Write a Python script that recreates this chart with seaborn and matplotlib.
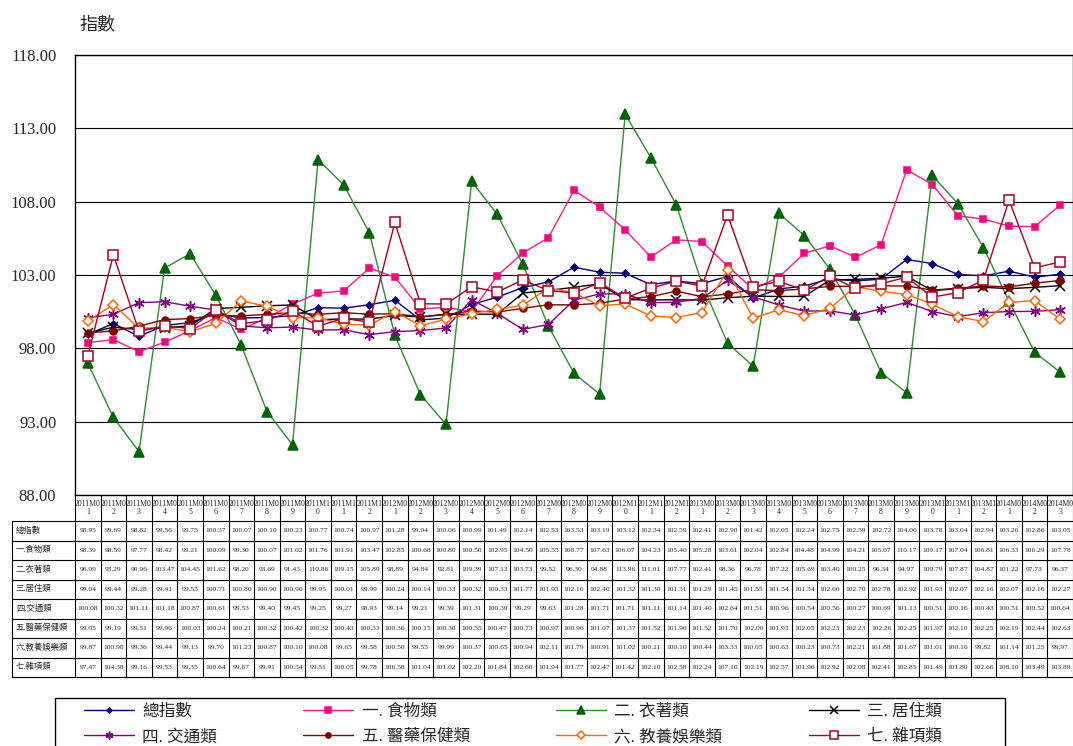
import numpy as np
import pandas as pd
import seaborn as sns
import matplotlib.pyplot as plt
from matplotlib.patches import Rectangle

months = ["2011M01", "2011M02", "2011M03", "2011M04", "2011M05", "2011M06",
          "2011M07", "2011M08", "2011M09", "2011M10", "2011M11", "2011M12",
          "2012M01", "2012M02", "2012M03", "2012M04", "2012M05", "2012M06",
          "2012M07", "2012M08", "2012M09", "2012M10", "2012M11", "2012M12",
          "2013M01", "2013M02", "2013M03", "2013M04", "2013M05", "2013M06",
          "2013M07", "2013M08", "2013M09", "2013M10", "2013M11", "2013M12",
          "2014M01", "2014M02", "2014M03"]

total = [98.95, 99.69, 98.82, 99.56, 99.75, 100.37, 100.07, 100.10, 100.23, 100.77, 100.74, 100.97,
         101.28, 99.94, 100.06, 100.99, 101.49, 102.14, 102.53, 103.53, 103.19, 103.12, 102.34, 102.59,
         102.41, 102.90, 101.42, 102.05, 102.24, 102.75, 102.59, 102.72, 104.06, 103.78, 103.04, 102.94,
         103.26, 102.86, 103.05]
food = [98.39, 98.59, 97.77, 98.42, 99.21, 100.09, 99.30, 100.07, 101.02, 101.76, 101.91, 103.47,
        102.85, 100.68, 100.80, 100.50, 102.95, 104.50, 105.55, 108.77, 107.63, 106.07, 104.23, 105.40,
        105.28, 103.61, 102.04, 102.84, 104.48, 104.99, 104.21, 105.07, 110.17, 109.17, 107.04, 106.81,
        106.33, 106.29, 107.78]
clothing = [96.99, 93.29, 90.96, 103.47, 104.45, 101.62, 98.20, 93.69, 91.43, 110.86, 109.15, 105.89,
            98.89, 94.84, 92.81, 109.39, 107.13, 103.73, 99.52, 96.30, 94.88, 113.96, 111.01, 107.77,
            102.41, 98.36, 96.78, 107.22, 105.69, 103.40, 100.25, 96.34, 94.97, 109.79, 107.87, 104.87,
            101.22, 97.73, 96.37]
housing = [99.04, 99.44, 99.28, 99.41, 99.53, 100.71, 100.80, 100.90, 100.96, 99.95, 100.01, 99.99,
           100.24, 100.14, 100.33, 100.32, 100.33, 101.77, 101.95, 102.16, 102.40, 101.32, 101.30, 101.31,
           101.29, 101.45, 101.55, 101.54, 101.54, 102.66, 102.70, 102.78, 102.92, 101.93, 102.07, 102.16,
           102.07, 102.16, 102.27]
transport = [100.08, 100.32, 101.11, 101.18, 100.87, 100.61, 99.53, 99.40, 99.45, 99.25, 99.27, 98.93,
             99.14, 99.21, 99.39, 101.31, 100.39, 99.29, 99.63, 101.28, 101.71, 101.71, 101.11, 101.14,
             101.40, 102.64, 101.51, 100.96, 100.54, 100.56, 100.27, 100.69, 101.13, 100.51, 100.16, 100.43,
             100.51, 100.52, 100.64]
medical = [99.05, 99.19, 99.51, 99.96, 100.03, 100.24, 100.21, 100.32, 100.42, 100.32, 100.43, 100.33,
           100.36, 100.15, 100.30, 100.55, 100.47, 100.73, 100.97, 100.96, 101.07, 101.37, 101.52, 101.90,
           101.52, 101.70, 102.00, 101.93, 102.05, 102.23, 102.23, 102.26, 102.25, 101.97, 102.10, 102.25,
           102.19, 102.44, 102.63]
education = [99.87, 100.98, 99.36, 99.44, 99.13, 99.70, 101.23, 100.87, 100.10, 100.08, 99.65, 99.58,
             100.50, 99.55, 99.99, 100.37, 100.65, 100.94, 102.11, 101.79, 100.91, 101.02, 100.21, 100.10,
             100.44, 103.33, 100.05, 100.63, 100.23, 100.73, 102.21, 101.88, 101.67, 101.01, 100.16, 99.82,
             101.14, 101.25, 99.97]
misc = [97.47, 104.38, 99.16, 99.53, 99.35, 100.64, 99.67, 99.91, 100.54, 99.51, 100.05, 99.78,
        106.58, 101.04, 101.02, 102.20, 101.84, 102.66, 101.94, 101.77, 102.47, 101.42, 102.10, 102.58,
        102.24, 107.10, 102.19, 102.57, 101.96, 102.92, 102.08, 102.41, 102.85, 101.49, 101.80, 102.66,
        108.10, 103.49, 103.89]

table_names = ["總指數", "一.食物類", "二.衣著類", "三.居住類", "四.交通類", "五.醫藥保健類", "六.教養娛樂類", "七.雜項類"]
legend_names = ["總指數", "一. 食物類", "二. 衣著類", "三. 居住類", "四. 交通類", "五. 醫藥保健類", "六. 教養娛樂類", "七. 雜項類"]
series = [total, food, clothing, housing, transport, medical, education, misc]

# line color, marker, size, face, edge
styles = [
    ("#000080", "D", 3.5, "#000080", "#000080"),
    ("#FF1A8C", "s", 5, "#FF0080", "#FF0080"),
    ("#2E8B2E", "^", 7, "#006400", "#006400"),
    ("#000000", "x", 7.5, "#000000", "#000000"),
    ("#800080", (6, 2, 0), 7.5, "#800080", "#800080"),
    ("#800000", "o", 5, "#800000", "#800000"),
    ("#FF6600", "D", 5, "white", "#FF6600"),
    ("#A50021", "s", 7, "white", "#A50021"),
]

sns.set_theme(style="white")
plt.rcParams["font.family"] = ["Liberation Serif", "Noto Sans CJK TC"]

W, H = 1073, 746
fig = plt.figure(figsize=(W / 100, H / 100), dpi=100)

# main chart: x 75..1073, y 55..495 px
ax = fig.add_axes([75 / W, 1 - 495 / H, 998 / W, 440 / H])
df = pd.DataFrame({"month": months})
for name, vals, (lc, mk, ms, fc, ec) in zip(legend_names, series, styles):
    df["value"] = vals
    sns.lineplot(data=df, x="month", y="value", ax=ax, color=lc, marker=mk, markersize=ms,
                 markerfacecolor=fc, markeredgecolor=ec, markeredgewidth=1.1,
                 linewidth=1.0, label=name, sort=False)

ax.set_xlim(-0.5, len(months) - 0.5)
ax.set_ylim(88, 118)
ax.set_yticks(np.arange(88, 118.1, 5))
ax.set_yticklabels([f"{v:.2f}" for v in np.arange(88, 118.1, 5)], fontsize=12)
ax.tick_params(axis="y", length=0, pad=13.5)
ax.tick_params(axis="x", length=0, labelbottom=False)
ax.set_xlabel("")
ax.set_ylabel("")
ax.yaxis.grid(True, color="black", linewidth=0.8)
for s in ax.spines.values():
    s.set_color("black")
    s.set_linewidth(1.0)

handles, labels = ax.get_legend_handles_labels()
ax.get_legend().remove()

fig.text(80 / W, 1 - 25 / H, "指數", fontsize=13, va="center", ha="left")

# data table under the chart: header 26 px, 8 rows of 19.5 px
tab = fig.add_axes([75 / W, 1 - 677 / H, 998 / W, 182 / H])
n = len(months)
tab.set_xlim(-0.5, n - 0.5)
tab.set_ylim(182, 0)
tab.axis("off")
head_h, row_h = 26, 19.5
lab_left = -0.5 - 63 / (998 / n)
for j in range(n + 1):
    tab.plot([j - 0.5, j - 0.5], [0, 182], color="black", lw=0.8, clip_on=False)
for i in range(len(series) + 1):
    y = head_h + i * row_h
    tab.plot([lab_left, n - 0.5], [y, y], color="black", lw=0.8, clip_on=False)
tab.plot([lab_left, lab_left], [head_h, 182], color="black", lw=0.8, clip_on=False)
for j, m in enumerate(months):
    tab.text(j, head_h / 2, m[:6] + "\n" + m[6:], ha="center", va="center", fontsize=5.6,
             linespacing=1.05, clip_on=False)
for i, (tname, vals) in enumerate(zip(table_names, series)):
    yc = head_h + (i + 0.5) * row_h
    tab.text(lab_left + 0.15, yc, tname, ha="left", va="center", fontsize=6, clip_on=False)
    for j, v in enumerate(vals):
        tab.text(j, yc, f"{v:.2f}", ha="center", va="center", fontsize=5.4, clip_on=False)

# legend in a box at the bottom, rows filled left to right
order = [0, 4, 1, 5, 2, 6, 3, 7]
leg = fig.legend([handles[k] for k in order], [labels[k] for k in order], ncol=4,
                 loc="upper left", bbox_to_anchor=(84 / W, 1 - 704 / H, 858 / W, 0),
                 mode="expand", frameon=False, fontsize=12, handlelength=3, markerscale=0.75,
                 handletextpad=0.5, borderaxespad=0, borderpad=0, labelspacing=0.55)
fig.patches.append(Rectangle((55 / W, -0.05), 950 / W, 0.05 + 1 - 698 / H,
                             transform=fig.transFigure, fill=False, edgecolor="black", lw=1.0))

fig.savefig("out.png", dpi=100)
